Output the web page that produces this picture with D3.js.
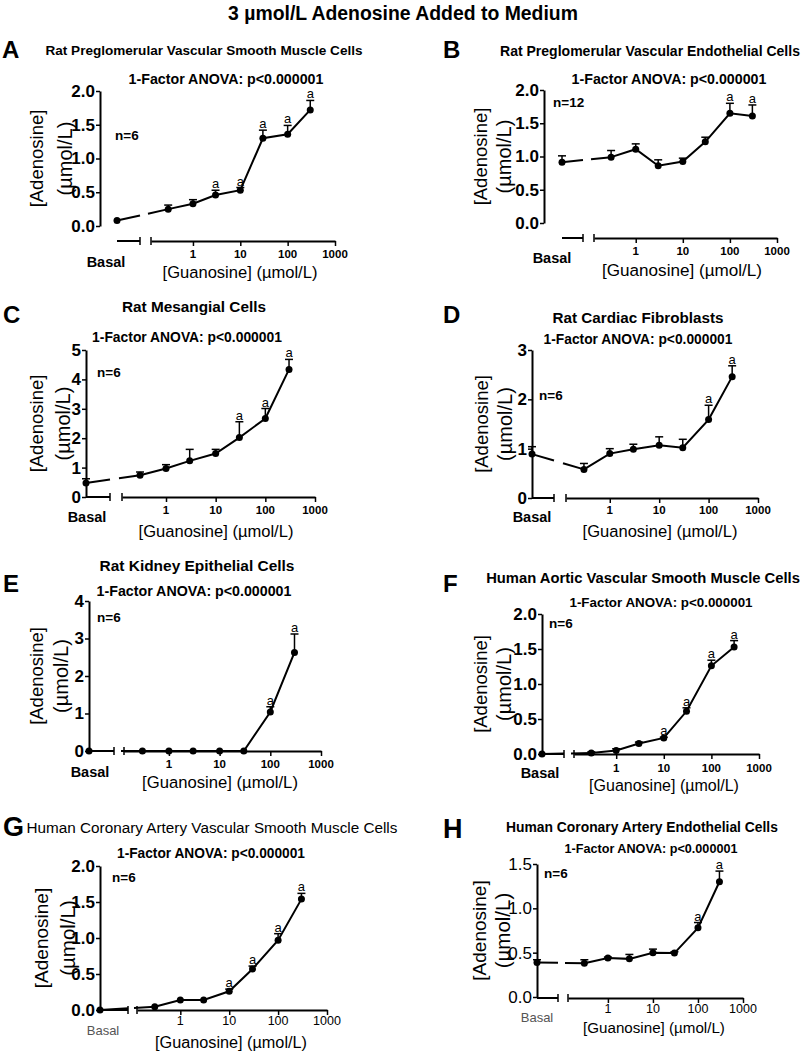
<!DOCTYPE html>
<html><head><meta charset="utf-8">
<script src="https://cdn.jsdelivr.net/npm/d3@7"></script>
<style>
body{margin:0;background:#fff;}
svg{display:block;font-family:"Liberation Sans",Arial,sans-serif;}
</style></head>
<body><svg id="c" width="807" height="1054"></svg>
<script>
// ---------- data ----------
const doses = ["Basal", 0.3, 1, 3, 10, 30, 100, 300];
const xTickValues = [1, 10, 100, 1000];
const xTickLabels = ["1", "10", "100", "1000"];
const panelLetters = ["A","B","C","D","E","F","G","H"];
const panelTitles = [
  "Rat Preglomerular Vascular Smooth Muscle Cells",
  "Rat Preglomerular Vascular Endothelial Cells",
  "Rat Mesangial Cells",
  "Rat Cardiac Fibroblasts",
  "Rat Kidney Epithelial Cells",
  "Human Aortic Vascular Smooth Muscle Cells",
  "Human Coronary Artery Vascular Smooth Muscle Cells",
  "Human Coronary Artery Endothelial Cells"
];
const nLabels = ["n=6","n=12","n=6","n=6","n=6","n=6","n=6","n=6"];
const yMaxes = [2, 2, 5, 3, 4, 2, 2, 1.5];
const yTickSteps = [0.5, 0.5, 1, 1, 1, 0.5, 0.5, 0.5];

const meanA = [0.08, 0.25, 0.33, 0.46, 0.53, 1.30, 1.36, 1.72];
const semA  = [0, 0.06, 0.06, 0.07, 0.04, 0.12, 0.13, 0.14];
const sigA  = [0, 0, 0, 1, 1, 1, 1, 1];
const meanB = [0.915, 0.99, 1.11, 0.86, 0.925, 1.22, 1.65, 1.61];
const semB  = [0.095, 0.10, 0.08, 0.09, 0.05, 0.07, 0.15, 0.165];
const sigB  = [0, 0, 0, 0, 0, 0, 1, 1];
const meanC = [0.48, 0.74, 0.97, 1.23, 1.48, 2.02, 2.67, 4.34];
const semC  = [0.14, 0.11, 0.13, 0.39, 0.14, 0.54, 0.34, 0.34];
const sigC  = [0, 0, 0, 0, 0, 1, 1, 1];
const meanD = [0.89, 0.58, 0.90, 0.99, 1.07, 1.02, 1.59, 2.46];
const semD  = [0.15, 0.12, 0.10, 0.10, 0.17, 0.17, 0.29, 0.22];
const sigD  = [0, 0, 0, 0, 0, 0, 1, 1];
const meanE = [0, 0, 0, 0, 0, 0, 1.04, 2.63];
const semE  = [0, 0, 0, 0, 0, 0, 0.14, 0.49];
const sigE  = [0, 0, 0, 0, 0, 0, 1, 1];
const meanF = [0, 0.015, 0.05, 0.15, 0.23, 0.61, 1.26, 1.53];
const semF  = [0, 0.015, 0.025, 0.02, 0.01, 0.05, 0.08, 0.09];
const sigF  = [0, 0, 0, 0, 1, 1, 1, 1];
const meanG = [0, 0.045, 0.14, 0.14, 0.26, 0.57, 0.97, 1.54];
const semG  = [0, 0, 0, 0, 0.03, 0.04, 0.09, 0.08];
const sigG  = [0, 0, 0, 0, 1, 1, 1, 1];
const meanH = [0.39, 0.38, 0.44, 0.43, 0.50, 0.495, 0.78, 1.30];
const semH  = [0.03, 0.04, 0.01, 0.05, 0.04, 0.015, 0.06, 0.12];
const sigH  = [0, 0, 0, 0, 0, 0, 1, 1];

const means = [meanA, meanB, meanC, meanD, meanE, meanF, meanG, meanH];
const sems  = [semA, semB, semC, semD, semE, semF, semG, semH];
const sigs  = [sigA, sigB, sigC, sigD, sigE, sigF, sigG, sigH];

const mainTitle = "3 µmol/L Adenosine Added to Medium";
const anovaText = "1-Factor ANOVA: p<0.000001";
const xTitle = "[Guanosine] (µmol/L)";
const yTitle1 = "[Adenosine]";
const yTitle2 = "(µmol/L)";
const basalLabel = "Basal";
const sigLabel = "a";

// ---------- layout (pixel geometry only) ----------
const L = [
 {ax:100, yTop:91, y0:226, xy:241, bs:117, be:140, ms:151, me:335, letX:2, letY:58, tX:204, tY:55, tW:317, aX:226, aY:84, aW:195, nX:115, nY:140, yl1:36, yl2:65, bX:106, bY:267, tkY:258, xtX:240, xtY:278, xtW:155},
 {ax:544, yTop:90, y0:223, xy:238, bs:562, be:583, ms:594, me:777, letX:443, letY:58, tX:650, tY:56, tW:300, aX:669, aY:84, aW:195, nX:553, nY:107, yl1:480, yl2:504, bX:552, bY:263, tkY:255, xtX:682, xtY:276, xtW:160},
 {ax:86, yTop:350, y0:497, xy:497, bs:86, be:110, ms:122, me:315, letX:3, letY:323, tX:194, tY:312, tW:144, aX:187, aY:342, aW:190, nX:97, nY:377, yl1:36, yl2:63, bX:87, bY:522, tkY:514, xtX:216, xtY:537, xtW:155},
 {ax:532, yTop:350, y0:498, xy:498, bs:532, be:554, ms:566, me:758, letX:443, letY:323, tX:638, tY:323, tW:171, aX:638, aY:344, aW:189, nX:539, nY:400, yl1:481, yl2:505, bX:532, bY:522, tkY:514, xtX:660, xtY:537, xtW:155},
 {ax:89, yTop:601, y0:751, xy:751, bs:89, be:114, ms:124, me:321, letX:3, letY:592, tX:197, tY:571, tW:195, aX:194, aY:596, aW:195, nX:97, nY:622, yl1:36, yl2:61, bX:90, bY:777, tkY:768, xtX:220, xtY:788, xtW:156},
 {ax:542, yTop:614, y0:754, xy:754, bs:542, be:564, ms:574, me:759, letX:443, letY:592, tX:643, tY:583, tW:314, aX:661, aY:607, aW:183, nX:549, nY:628, yl1:480, yl2:504, bX:540, bY:778, tkY:772, xtX:664, xtY:791, xtW:150},
 {ax:100, yTop:866, y0:1010, xy:1010, bs:100, be:128, ms:137, me:327, letX:3, letY:836, tX:212, tY:833, tW:371, aX:211, aY:858, aW:188, nX:112, nY:882, yl1:41, yl2:67, bX:103, bY:1035, tkY:1025, xtX:231, xtY:1048, xtW:152, alt:true},
 {ax:537, yTop:864, y0:997, xy:998, bs:537, be:558, ms:568, me:743, letX:443, letY:838, tX:642, tY:832, tW:272, aX:651, aY:853, aW:173, nX:544, nY:878, yl1:479, yl2:502, bX:537, bY:1022, tkY:1013, xtX:654, xtY:1033, xtW:142, alt:true}
];

function fit(sel, w) {
  const cur = sel.node().getComputedTextLength();
  const fs = parseFloat(sel.attr("font-size"));
  sel.attr("font-size", (fs * w / cur).toFixed(2));
  return sel;
}

const svg = d3.select("#c");
fit(svg.append("text").attr("x", 403).attr("y", 20).attr("text-anchor","middle")
  .attr("font-size", 16).attr("font-weight","bold").text(mainTitle), 350);

means.forEach((mean, p) => {
  const g = L[p];
  const sem = sems[p], sig = sigs[p];
  const gp = svg.append("g");
  const y = d3.scaleLinear().domain([0, yMaxes[p]]).range([g.y0, g.yTop]);
  const xMain = d3.scaleLog().domain([0.13, 1000]).range([g.ms, g.me]);
  const xPos = i => i === 0 ? g.bs : xMain(doses[i]);
  const yTicks = d3.range(0, yMaxes[p] + 1e-9, yTickSteps[p]);
  const fmt = yTickSteps[p] < 1 ? d3.format(".1f") : d3.format("d");

  // letter, title, anova, n
  gp.append("text").attr("x", g.letX).attr("y", g.letY).attr("font-size", g.alt ? 27 : 24)
    .attr("font-weight","bold").text(panelLetters[p]);
  fit(gp.append("text").attr("x", g.tX).attr("y", g.tY).attr("text-anchor","middle")
    .attr("font-size", 13).attr("font-weight", p === 6 ? "normal" : "bold")
    .text(panelTitles[p]), g.tW);
  fit(gp.append("text").attr("x", g.aX).attr("y", g.aY).attr("text-anchor","middle")
    .attr("font-size", 13).attr("font-weight","bold").text(anovaText), g.aW);
  gp.append("text").attr("x", g.nX).attr("y", g.nY).attr("font-size", 13.5)
    .attr("font-weight","bold").text(nLabels[p]);

  // y titles
  const yc = (g.y0 + g.yTop) / 2;
  [[yTitle1, g.yl1, 18.5], [yTitle2, g.yl2, 20]].forEach(([t, xx, fs]) => {
    gp.append("text").attr("transform", `translate(${xx},${yc}) rotate(-90)`)
      .attr("text-anchor","middle").attr("dominant-baseline","central")
      .attr("font-size", g.alt ? fs + 0.5 : fs).text(t);
  });

  // y axis
  const ya = gp.append("g").attr("transform", `translate(${g.ax},0)`)
    .call(d3.axisLeft(y).tickValues(yTicks).tickFormat(fmt).tickSize(4).tickSizeOuter(0).tickPadding(1));
  ya.select(".domain").attr("stroke-width", 2);
  ya.selectAll(".tick line").attr("stroke-width", 1.5);
  ya.selectAll("text").attr("font-size", 17).attr("font-weight", p === 7 ? "normal" : "bold")
    .attr("font-family", '"Liberation Sans",Arial,sans-serif').attr("fill","#000");

  // x axis main segment
  const xa = gp.append("g").attr("transform", `translate(0,${g.xy})`)
    .call(d3.axisBottom(xMain).tickValues(xTickValues).tickFormat((d, i) => xTickLabels[i]).tickSize(5).tickSizeOuter(0));
  xa.select(".domain").attr("stroke-width", 2);
  xa.selectAll(".tick line").attr("stroke-width", 1.5);
  xa.selectAll(".tick text").remove();
  xTickValues.forEach((v, i) => {
    gp.append("text").attr("x", xMain(v)).attr("y", g.tkY).attr("text-anchor","middle")
      .attr("font-size", g.alt ? 12.5 : 11.5).attr("font-weight", g.alt ? "normal" : "bold").text(xTickLabels[i]);
  });
  // break ticks and basal segment
  gp.append("line").attr("x1", g.bs).attr("x2", g.be).attr("y1", g.xy).attr("y2", g.xy)
    .attr("stroke","#000").attr("stroke-width", 2);
  [g.be, g.ms].forEach(xx => gp.append("line").attr("x1", xx).attr("x2", xx)
    .attr("y1", g.xy - 4).attr("y2", g.xy + 4).attr("stroke","#000").attr("stroke-width", 1.5));
  gp.append("text").attr("x", g.bX).attr("y", g.bY).attr("text-anchor","middle")
    .attr("font-size", g.alt ? 13 : 14.5).attr("font-weight", g.alt ? "normal" : "bold")
    .attr("fill", g.alt ? "#555" : "#000").text(basalLabel);
  fit(gp.append("text").attr("x", g.xtX).attr("y", g.xtY).attr("text-anchor","middle")
    .attr("font-size", 16).text(xTitle), g.xtW);

  // connecting lines
  const pts = mean.map((m, i) => [xPos(i), y(m)]);
  const line = d3.line();
  gp.append("path").attr("d", line(pts.slice(1))).attr("fill","none")
    .attr("stroke","#000").attr("stroke-width", 2);
  // basal -> first dose, broken at axis gap
  const [p0, p1] = [pts[0], pts[1]];
  const at = xx => [xx, p0[1] + (p1[1] - p0[1]) * (xx - p0[0]) / (p1[0] - p0[0])];
  gp.append("path").attr("d", line([p0, at(g.be)])).attr("stroke","#000").attr("stroke-width", 2).attr("fill","none");
  gp.append("path").attr("d", line([at(g.ms - 3), p1])).attr("stroke","#000").attr("stroke-width", 2).attr("fill","none");

  // error bars
  mean.forEach((m, i) => {
    if (sem[i] <= 0) return;
    const xx = xPos(i), yt = y(m + sem[i]);
    gp.append("line").attr("x1", xx).attr("x2", xx).attr("y1", y(m)).attr("y2", yt)
      .attr("stroke","#000").attr("stroke-width", 1.5);
    gp.append("line").attr("x1", xx - 4).attr("x2", xx + 4).attr("y1", yt).attr("y2", yt)
      .attr("stroke","#000").attr("stroke-width", 1.5);
  });
  // points
  gp.selectAll("circle.pt").data(mean).enter().append("circle")
    .attr("cx", (d, i) => xPos(i)).attr("cy", d => y(d)).attr("r", 3.5).attr("fill","#000");
  // significance
  mean.forEach((m, i) => {
    if (!sig[i]) return;
    gp.append("text").attr("x", xPos(i)).attr("y", y(m + sem[i]) - 2).attr("text-anchor","middle")
      .attr("font-size", 13).text(sigLabel);
  });
});
</script></body></html>
